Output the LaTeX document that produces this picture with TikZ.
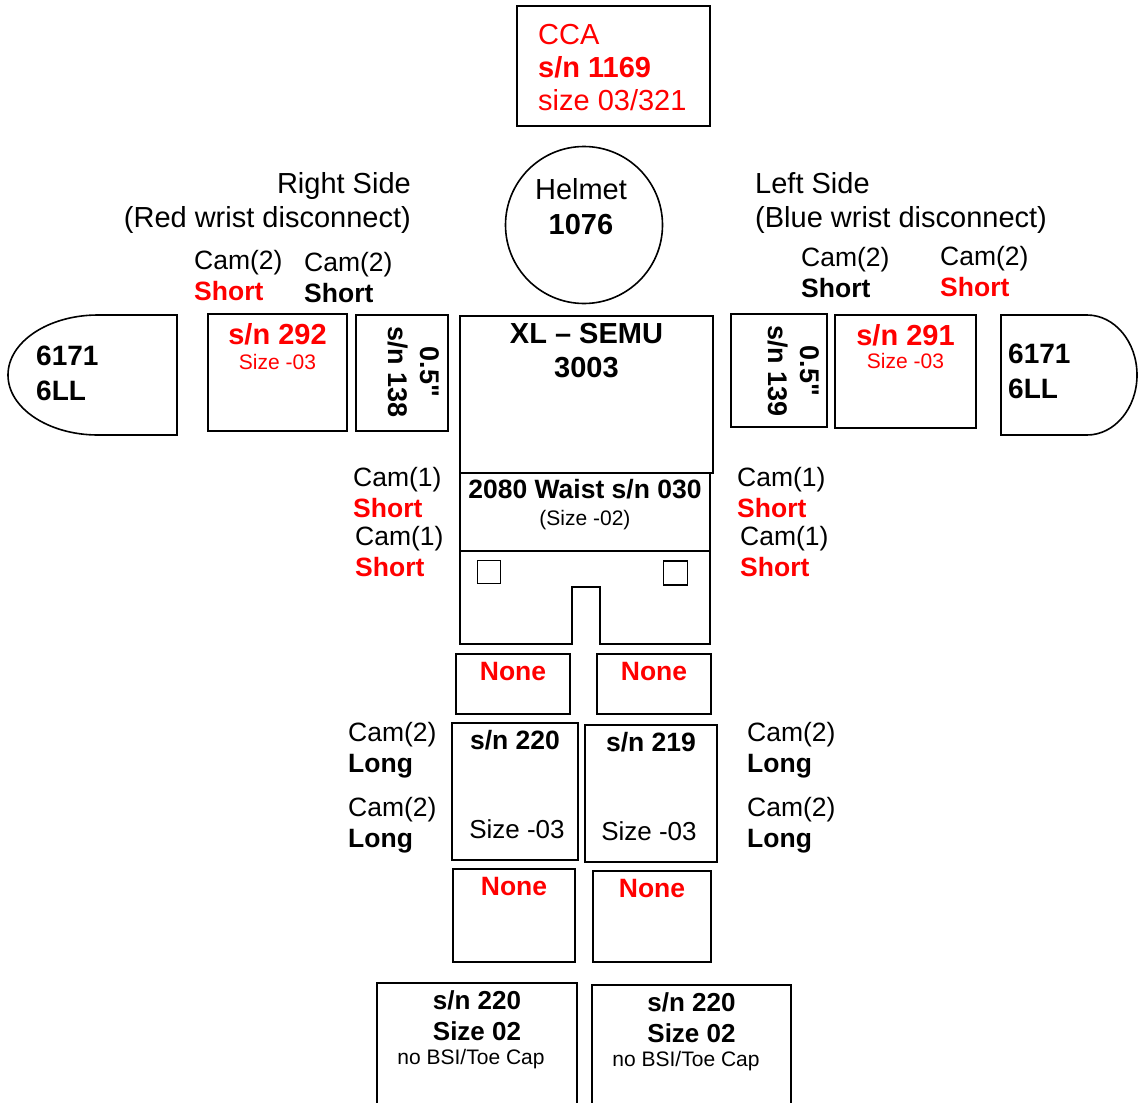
\documentclass[tikz,border=0pt]{standalone}
\usepackage{fontspec}
\setmainfont{Liberation Sans}
\newfontfamily\plainsans{Liberation Sans}
\definecolor{tagred}{RGB}{255, 0, 0}
\newcommand{\bigf}{\fontsize{29}{34}\selectfont}
\newcommand{\midf}{\fontsize{26.5}{31}\selectfont}
\newcommand{\smallf}{\fontsize{21}{26}\selectfont}
\newcommand{\inch}{{\plainsans\bfseries\symbol{34}}}
\usetikzlibrary{positioning}
\tikzset{
	part/.style={draw, line width=1.6pt, inner sep=0pt},
	txt/.style={inner sep=0pt, align=left, font=\midf},
	bigtxt/.style={inner sep=0pt, align=center, font=\bigf},
	smalltxt/.style={inner sep=0pt, align=center, font=\smallf},
	redtxt/.style={text=tagred},
}

\begin{document}
\begin{tikzpicture}[x=1pt, y=-1pt]
		\useasboundingbox (0,0) rectangle (1138,1103);
		% head
		\node[part, minimum width=193pt, minimum height=120pt] (cca) at (613.5,66) {};
		\node[txt, font=\fontsize{29}{33}\selectfont, redtxt, anchor=west] (ccatext) at (538,68) {CCA\\\textbf{s/n 1169}\\size 03/321};
		\node[part, circle, minimum size=157pt] (helmet) at (584,225) {};
		\node[bigtxt, font=\fontsize{29}{35}\selectfont] (helmettext) at (581,207) {Helmet\\\textbf{1076}};
		\node[bigtxt, align=right, anchor=east] (rightside) at (411,203) {Right Side\\(Red wrist disconnect)};
		\node[bigtxt, align=left, anchor=west] (leftside) at (755,203) {Left Side\\(Blue wrist disconnect)};
		% arm cams
		\node[txt, anchor=west] (camra) at (194,276) {Cam(2)\\\textbf{\color{tagred}Short}};
		\node[txt, anchor=west] (camrb) at (304,278) {Cam(2)\\\textbf{Short}};
		\node[txt, anchor=west] (camla) at (801,273) {Cam(2)\\\textbf{Short}};
		\node[txt, anchor=west] (camlb) at (940,272) {Cam(2)\\\textbf{\color{tagred}Short}};
		% gloves and arms
		\draw[part] (177,315) -- (98,315) arc[start angle=90, end angle=270, x radius=90pt, y radius=60pt] -- (177,435) -- cycle;
		\node[txt, font=\fontsize{28}{35}\selectfont\bfseries, anchor=west] (glover) at (36,373) {6171\\6LL};
		\node[part, minimum width=139pt, minimum height=117pt] (armr) at (277.5,372.5) {};
		\node[bigtxt, redtxt, below=10pt of armr.north] (armrsn) {\textbf{s/n 292}};
		\node[smalltxt, redtxt, below=9pt of armrsn] (armrsize) {Size -03};
		\node[part, minimum width=92pt, minimum height=116pt] (ringr) at (402,373) {};
		\node[bigtxt, font=\fontsize{27}{32}\selectfont\bfseries, rotate=-90] (ringrtext) at (414,372) {0.5\inch\\s/n 138};
		\node[part, minimum width=96pt, minimum height=113pt] (ringl) at (779,370.5) {};
		\node[bigtxt, font=\fontsize{27}{32}\selectfont\bfseries, rotate=-90] (ringltext) at (794,371) {0.5\inch\\s/n 139};
		\node[part, minimum width=141pt, minimum height=113pt] (arml) at (905.5,371.5) {};
		\node[bigtxt, redtxt, below=10pt of arml.north] (armlsn) {\textbf{s/n 291}};
		\node[smalltxt, redtxt, below=7pt of armlsn] (armlsize) {Size -03};
		\draw[part] (1001,315) -- (1087,315) arc[start angle=90, end angle=-90, x radius=50pt, y radius=60pt] -- (1001,435) -- cycle;
		\node[txt, font=\fontsize{28}{35}\selectfont\bfseries, anchor=west] (glovel) at (1008,371) {6171\\6LL};
		% torso and waist
		\node[part, minimum width=253pt, minimum height=157pt] (semu) at (586.5,394.5) {};
		\node[bigtxt, font=\bigf\bfseries, below=8pt of semu.north] (semutext) {XL – SEMU\\3003};
		\node[part, minimum width=250pt, minimum height=78pt] (waist) at (585,512) {};
		\node[txt, font=\midf\bfseries, below=7pt of waist.north] (waisttext) {2080 Waist s/n 030};
		\node[smalltxt, below=11pt of waisttext] (waistsize) {(Size -02)};
		\draw[part] (460,551) -- (460,644) -- (572,644) -- (572,587) -- (600,587) -- (600,644) -- (710,644) -- (710,551);
		\node[part, line width=1.4pt, minimum size=23pt] (pocketr) at (489,572) {};
		\node[part, line width=1.4pt, minimum size=24pt] (pocketl) at (675.5,573) {};
		\node[txt, anchor=west] (camwra) at (353,493) {Cam(1)\\\textbf{\color{tagred}Short}};
		\node[txt, anchor=west] (camwrb) at (355,552) {Cam(1)\\\textbf{\color{tagred}Short}};
		\node[txt, anchor=west] (camwla) at (737,493) {Cam(1)\\\textbf{\color{tagred}Short}};
		\node[txt, anchor=west] (camwlb) at (740,552) {Cam(1)\\\textbf{\color{tagred}Short}};
		% legs
		\node[part, minimum width=114pt, minimum height=60pt] (thighr) at (513,684) {};
		\node[txt, font=\midf\bfseries, redtxt, below=9pt of thighr.north] (thighrtext) {None};
		\node[part, minimum width=114pt, minimum height=60pt] (thighl) at (654,684) {};
		\node[txt, font=\midf\bfseries, redtxt, below=9pt of thighl.north] (thighltext) {None};
		\node[part, minimum width=126pt, minimum height=137pt] (kneer) at (515,791.5) {};
		\node[txt, font=\midf\bfseries, below=8pt of kneer.north] (kneersn) {s/n 220};
		\node[txt, font=\fontsize{26}{31}\selectfont] (kneersize) at (517,829) {Size -03};
		\node[part, minimum width=132pt, minimum height=137pt] (kneel) at (651,793.5) {};
		\node[txt, font=\midf\bfseries, below=8pt of kneel.north] (kneelsn) {s/n 219};
		\node[txt, font=\fontsize{26}{31}\selectfont] (kneelsize) at (649,831) {Size -03};
		\node[txt, anchor=west] (camkra) at (348,750) {Cam(2)\\\textbf{Long}};
		\node[txt, anchor=west] (camkrb) at (348,825) {Cam(2)\\\textbf{Long}};
		\node[txt, anchor=west] (camkla) at (747,750) {Cam(2)\\\textbf{Long}};
		\node[txt, anchor=west] (camklb) at (747,825) {Cam(2)\\\textbf{Long}};
		\node[part, minimum width=122pt, minimum height=93pt] (shinr) at (514,915.5) {};
		\node[txt, font=\midf\bfseries, redtxt, below=9pt of shinr.north] (shinrtext) {None};
		\node[part, minimum width=118pt, minimum height=91pt] (shinl) at (652,916.5) {};
		\node[txt, font=\midf\bfseries, redtxt, below=9pt of shinl.north] (shinltext) {None};
		% boots
		\node[part, minimum width=200pt, minimum height=140pt] (bootr) at (477,1053) {};
		\node[bigtxt, font=\fontsize{26}{31}\selectfont\bfseries, below=8pt of bootr.north] (bootrtext) {s/n 220\\Size 02};
		\node[smalltxt] (bootrnote) at (471,1059) {no BSI/Toe Cap};
		\node[part, minimum width=199pt, minimum height=140pt] (bootl) at (691.5,1055) {};
		\node[bigtxt, font=\fontsize{26}{31}\selectfont\bfseries, below=8pt of bootl.north] (bootltext) {s/n 220\\Size 02};
		\node[smalltxt] (bootlnote) at (686,1061) {no BSI/Toe Cap};
	\end{tikzpicture}
\end{document}
